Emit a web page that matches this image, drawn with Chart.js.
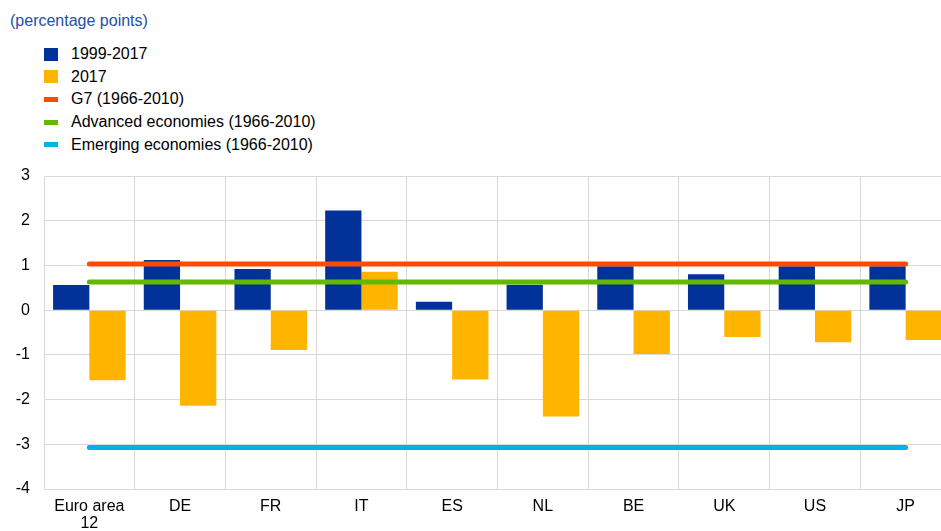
<!DOCTYPE html>
<html>
<head>
<meta charset="utf-8">
<script src="https://cdn.jsdelivr.net/npm/chart.js@4/dist/chart.umd.min.js"></script>
<style>
    body { margin: 0; overflow: hidden; background: #fff; font-family: "Liberation Sans", Arial, sans-serif; }
    #unit { position: absolute; left: 10px; top: 12px; font-size: 16px; color: #2350a8; }
    #legend { position: absolute; left: 44px; top: 43px; margin: 0; padding: 0; list-style: none; font-size: 16px; color: #000; }
    #legend li { height: 22.6px; display: flex; align-items: center; }
    #legend .swatch { display: inline-block; width: 14px; margin-right: 13px; }
    #chart-wrap { position: absolute; left: 0; top: 160px; width: 951px; height: 371px; }
</style>
</head>
<body>
<div id="unit">(percentage points)</div>
<ul id="legend"></ul>
<div id="chart-wrap"><canvas id="chart"></canvas></div>

<script>
// --- Data ---
const countries = [['Euro area', '12'], 'DE', 'FR', 'IT', 'ES', 'NL', 'BE', 'UK', 'US', 'JP'];
const avg1999to2017 = [0.56, 1.12, 0.92, 2.23, 0.19, 0.57, 0.98, 0.80, 0.98, 0.98];
const year2017 = [-1.57, -2.14, -0.89, 0.86, -1.55, -2.38, -0.98, -0.60, -0.72, -0.67];
const g7 = [1.03, 1.03, 1.03, 1.03, 1.03, 1.03, 1.03, 1.03, 1.03, 1.03];
const advanced = [0.63, 0.63, 0.63, 0.63, 0.63, 0.63, 0.63, 0.63, 0.63, 0.63];
const emerging = [-3.07, -3.07, -3.07, -3.07, -3.07, -3.07, -3.07, -3.07, -3.07, -3.07];
const yTicks = [3, 2, 1, 0, -1, -2, -3, -4];

const gridColor = '#d9d9d9';
const font = { family: '"Liberation Sans", Arial, sans-serif', size: 16 };

function refLine(label, data, color) {
    return {
        type: 'line', label, data, order: 0,
        borderColor: color, backgroundColor: color,
        borderWidth: 5, borderCapStyle: 'round',
        pointRadius: 0, pointHoverRadius: 0, fill: false
    };
}

const datasets = [
    { type: 'bar', label: '1999-2017', data: avg1999to2017, backgroundColor: '#003299', order: 1 },
    { type: 'bar', label: '2017', data: year2017, backgroundColor: '#ffb400', order: 1 },
    refLine('G7 (1966-2010)', g7, '#ff4b00'),
    refLine('Advanced economies (1966-2010)', advanced, '#65b800'),
    refLine('Emerging economies (1966-2010)', emerging, '#00b1ea')
];

// --- Chart ---
const chart = new Chart(document.getElementById('chart'), {
    data: { labels: countries, datasets },
    options: {
        responsive: true,
        maintainAspectRatio: false,
        animation: false,
        layout: { padding: { top: 16, right: 0, left: 0, bottom: 0 } },
        datasets: { bar: { categoryPercentage: 0.8, barPercentage: 1 } },
        plugins: { legend: { display: false }, tooltip: { enabled: false } },
        scales: {
            x: {
                grid: { color: gridColor, drawTicks: false, offset: true },
                border: { color: gridColor },
                ticks: { color: '#000', font: { ...font, lineHeight: 1.05 }, padding: 9, maxRotation: 0 },
                afterFit: s => { s.height = 42; }
            },
            y: {
                min: -4, max: 3,
                afterBuildTicks: s => { s.ticks = yTicks.map(v => ({ value: v })); },
                grid: { color: gridColor, drawTicks: false },
                border: { color: gridColor },
                ticks: { color: '#000', font, padding: 14 },
                // keep the tick padding from pushing the plot top down
                afterFit: s => { s.width = 44; s.paddingTop = 0; s.paddingBottom = 0; }
            }
        }
    }
});

// --- Legend ---
const legendEl = document.getElementById('legend');
chart.data.datasets.forEach(ds => {
    const li = document.createElement('li');
    const sw = document.createElement('span');
    sw.className = 'swatch';
    sw.style.background = ds.type === 'bar' ? ds.backgroundColor : ds.borderColor;
    sw.style.height = ds.type === 'bar' ? '13px' : '5px';
    li.appendChild(sw);
    li.appendChild(document.createTextNode(ds.label));
    legendEl.appendChild(li);
});
</script>
</body>
</html>
